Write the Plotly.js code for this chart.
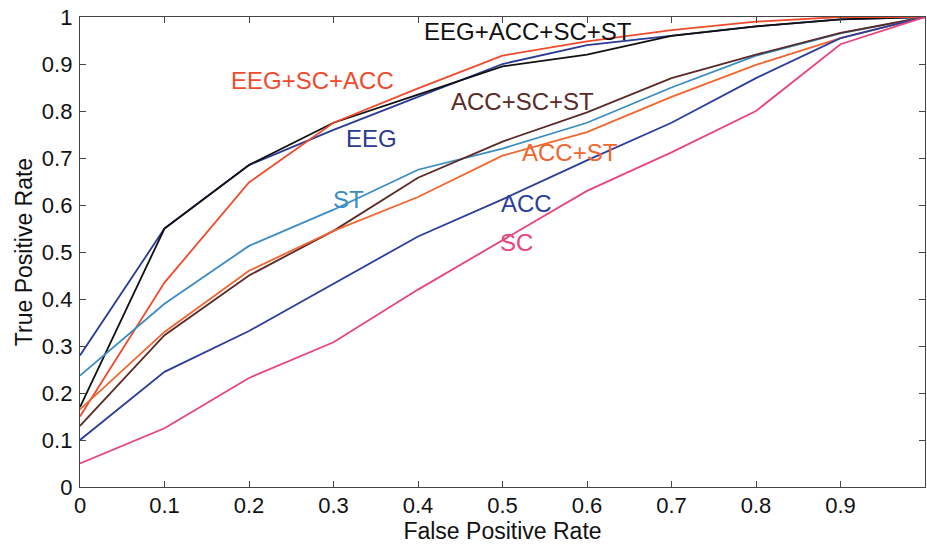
<!DOCTYPE html>
<html>
<head>
<meta charset="utf-8">
<script src="https://cdn.plot.ly/plotly-3.0.1.min.js"></script>
<style>html,body{margin:0;padding:0;background:#fff;}#chart{width:927px;height:544px;}</style>
</head>
<body>
<div id="chart"></div>
<script>
// False positive rate grid
const fpr = [0, 0.1, 0.2, 0.3, 0.4, 0.5, 0.6, 0.7, 0.8, 0.9, 1];

// True positive rates per feature set
const tprEEG         = [0.28, 0.55, 0.685, 0.76, 0.83, 0.90, 0.94, 0.96, 0.98, 0.995, 1];
const tprAll         = [0.17, 0.55, 0.685, 0.775, 0.835, 0.895, 0.92, 0.96, 0.98, 0.995, 1];
const tprEEGSCACC    = [0.15, 0.435, 0.648, 0.775, 0.848, 0.918, 0.948, 0.972, 0.99, 1.0, 1];
const tprST          = [0.237, 0.39, 0.513, 0.59, 0.675, 0.72, 0.775, 0.85, 0.918, 0.965, 1];
const tprACCSCST     = [0.13, 0.323, 0.45, 0.545, 0.658, 0.735, 0.797, 0.87, 0.92, 0.966, 1];
const tprACCST       = [0.165, 0.33, 0.46, 0.545, 0.617, 0.705, 0.755, 0.83, 0.898, 0.955, 1];
const tprACC         = [0.10, 0.245, 0.332, 0.432, 0.533, 0.612, 0.695, 0.775, 0.87, 0.955, 1];
const tprSC          = [0.05, 0.125, 0.232, 0.308, 0.42, 0.525, 0.63, 0.712, 0.80, 0.942, 1];

const seriesNames  = ['EEG', 'EEG+ACC+SC+ST', 'EEG+SC+ACC', 'ST', 'ACC+SC+ST', 'ACC+ST', 'ACC', 'SC'];
const seriesValues = [tprEEG, tprAll, tprEEGSCACC, tprST, tprACCSCST, tprACCST, tprACC, tprSC];
const seriesColors = ['#2b3a94', '#111111', '#f04a2c', '#3a8cc4', '#5a2a28', '#f2652e', '#2c3e9c', '#e8457c'];

const tickVals   = [0, 0.1, 0.2, 0.3, 0.4, 0.5, 0.6, 0.7, 0.8, 0.9, 1];
const tickLabels = ['0', '0.1', '0.2', '0.3', '0.4', '0.5', '0.6', '0.7', '0.8', '0.9', '1'];

// Label text for each curve (annotations)
const labelText = ['EEG+ACC+SC+ST', 'EEG+SC+ACC', 'ACC+SC+ST', 'EEG', 'ACC+ST', 'ST', 'ACC', 'SC'];
const labelColor = ['#111111', '#f04a2c', '#5a2a28', '#2b3a94', '#f2652e', '#3a8cc4', '#2c3e9c', '#e8457c'];
const labelX = [0.53, 0.275, 0.524, 0.345, 0.58, 0.318, 0.528, 0.516];
const labelY = [0.97, 0.865, 0.82, 0.742, 0.712, 0.612, 0.603, 0.52];

const traces = seriesNames.map((n, i) => ({
  x: fpr, y: seriesValues[i], name: n, type: 'scatter', mode: 'lines',
  line: {color: seriesColors[i], width: 1.8}, hoverinfo: 'skip'
}));

const font = {family: '"Liberation Sans", Arial, Helvetica, sans-serif', color: '#111'};

const axisCommon = {
  range: [0, 1], tickmode: 'array', tickvals: tickVals, ticktext: tickLabels,
  showgrid: false, zeroline: false, showline: true, mirror: 'ticks',
  linecolor: '#444', linewidth: 1.2, ticks: 'inside', ticklen: 6, tickcolor: '#444',
  tickfont: Object.assign({size: 22}, font)
};

const layout = {
  width: 927, height: 544,
  margin: {l: 80, r: 2, t: 17, b: 57},
  paper_bgcolor: '#fff', plot_bgcolor: '#fff',
  showlegend: false,
  font: font,
  xaxis: Object.assign({}, axisCommon, {
    ticklabelstandoff: -2,
    title: {text: 'False Positive Rate', font: Object.assign({size: 23}, font), standoff: 4}
  }),
  yaxis: Object.assign({}, axisCommon, {
    ticklabelstandoff: 2,
    title: {text: 'True Positive Rate', font: Object.assign({size: 23}, font), standoff: 2}
  }),
  annotations: labelText.map((t, i) => ({
    x: labelX[i], y: labelY[i], xref: 'x', yref: 'y', text: t, showarrow: false,
    font: Object.assign({}, font, {size: 24, color: labelColor[i]}),
    xanchor: 'center', yanchor: 'middle'
  }))
};

Plotly.newPlot('chart', traces, layout, {staticPlot: true, displayModeBar: false});
</script>
</body>
</html>
